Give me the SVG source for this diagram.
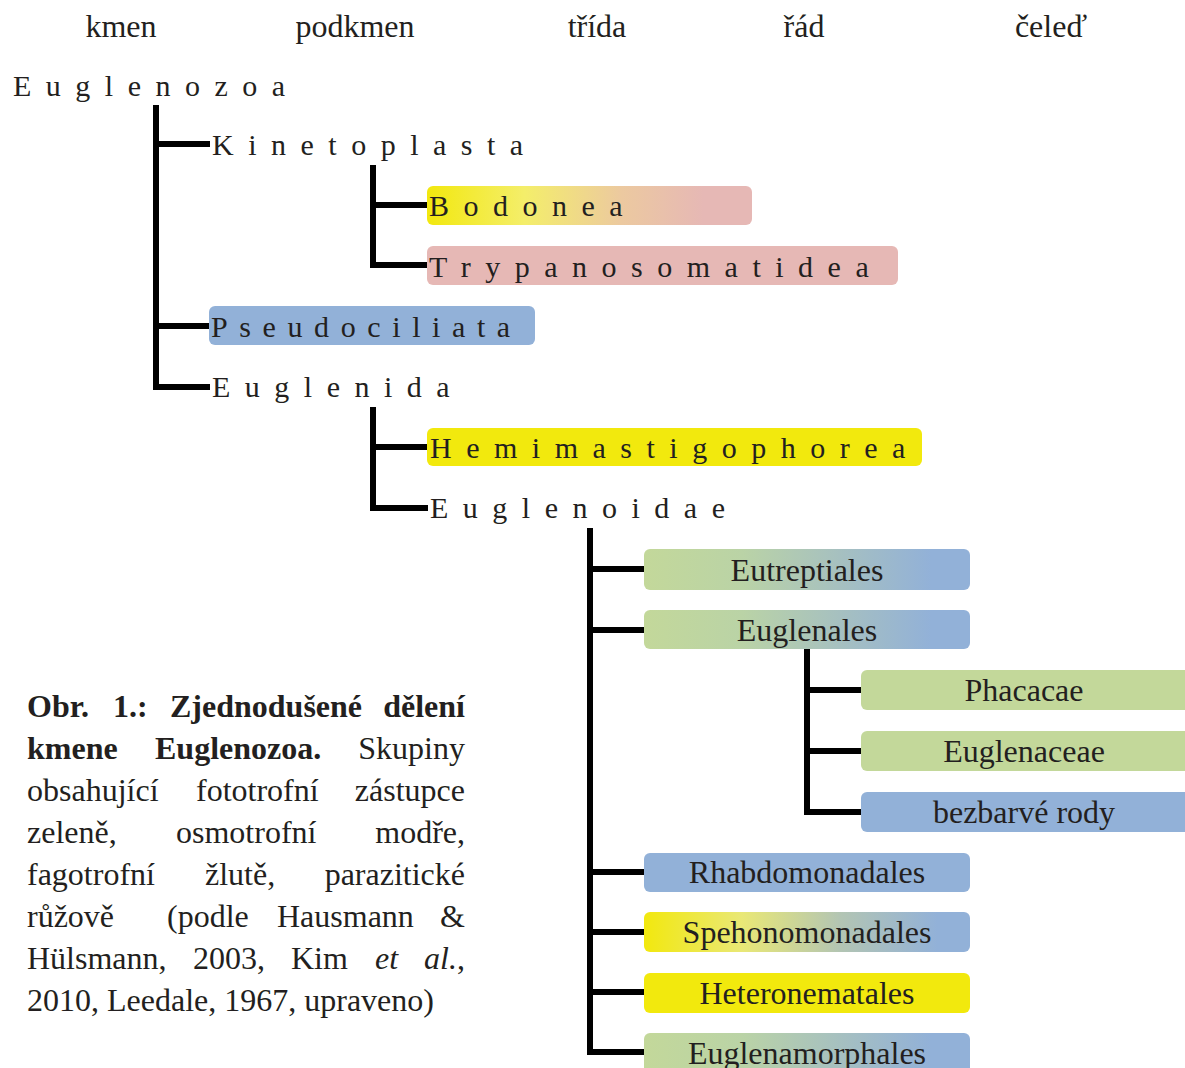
<svg xmlns="http://www.w3.org/2000/svg" width="1185" height="1068" viewBox="0 0 1185 1068">
<defs>
<linearGradient id="gBod" x1="0" y1="0" x2="1" y2="0">
<stop offset="0" stop-color="#f2e80e"/>
<stop offset="0.3" stop-color="#f4ee6a"/>
<stop offset="0.6" stop-color="#ecc9a0"/>
<stop offset="0.85" stop-color="#e6b8b5"/>
<stop offset="1" stop-color="#e6b8b5"/>
</linearGradient>
<linearGradient id="gGB" x1="0" y1="0" x2="1" y2="0">
<stop offset="0" stop-color="#c3d89a"/>
<stop offset="0.3" stop-color="#bad3a6"/>
<stop offset="0.6" stop-color="#a6c0c0"/>
<stop offset="0.88" stop-color="#92b1d8"/>
<stop offset="1" stop-color="#92b1d8"/>
</linearGradient>
<linearGradient id="gYB" x1="0" y1="0" x2="1" y2="0">
<stop offset="0" stop-color="#f2e80e"/>
<stop offset="0.3" stop-color="#e9e876"/>
<stop offset="0.6" stop-color="#b3c5b3"/>
<stop offset="0.9" stop-color="#92b1d8"/>
<stop offset="1" stop-color="#92b1d8"/>
</linearGradient>
</defs>
<style>
text{font-family:"Liberation Serif","Times New Roman",serif;fill:#231f20}
.h{font-size:32px;text-anchor:middle}
.sp{font-size:30px;letter-spacing:14.5px}
.bx{font-size:32px;text-anchor:middle}
.cap{font-size:32px}
.b{font-weight:bold}
.e{text-anchor:end}
.it{font-style:italic}
.ln{fill:none;stroke:#000;stroke-width:6;stroke-linejoin:miter}
.green{fill:#c3d89a}
.blue{fill:#92b1d8}
.yellow{fill:#f2e90d}
.pink{fill:#e6b8b5}
</style>

<g id="headers">
<text class="h" x="121" y="37">kmen</text>
<text class="h" x="355" y="37">podkmen</text>
<text class="h" x="597" y="37">třída</text>
<text class="h" x="804" y="37">řád</text>
<text class="h" x="1051" y="37">čeleď</text>
</g>

<g id="connectors">
<path class="ln" d="M156,105 V387 H210 M156,144 H210 M156,326 H210"/>
<path class="ln" d="M373,165 V265 H428 M373,205 H428"/>
<path class="ln" d="M373,407 V508 H428 M373,447 H428"/>
<path class="ln" d="M590,528 V1052 H645 M590,569 H645 M590,630 H645 M590,872 H645 M590,932 H645 M590,992 H645"/>
<path class="ln" d="M807,649 V812 H862 M807,690 H862 M807,751 H862"/>
</g>

<g id="n-euglenozoa"><text class="sp" x="13" y="96">Euglenozoa</text></g>
<g id="n-kinetoplasta"><text class="sp" x="212" y="155">Kinetoplasta</text></g>
<g id="n-bodonea"><rect x="427" y="186" width="325" height="39" rx="6" fill="url(#gBod)"/><text class="sp" x="429" y="216">Bodonea</text></g>
<g id="n-trypanosomatidea"><rect class="pink" x="427" y="246" width="471" height="39" rx="6"/><text class="sp" x="429" y="277">Trypanosomatidea</text></g>
<g id="n-pseudociliata"><rect class="blue" x="209" y="306" width="326" height="39" rx="6"/><text class="sp" x="211" y="337" style="letter-spacing:11.6px">Pseudociliata</text></g>
<g id="n-euglenida"><text class="sp" x="212" y="397">Euglenida</text></g>
<g id="n-hemimastigophorea"><rect class="yellow" x="427" y="428" width="495" height="38" rx="6"/><text class="sp" x="430" y="458">Hemimastigophorea</text></g>
<g id="n-euglenoidae"><text class="sp" x="430" y="518">Euglenoidae</text></g>

<g id="n-eutreptiales"><rect x="644" y="549" width="326" height="41" rx="6" fill="url(#gGB)"/><text class="bx" x="807" y="581">Eutreptiales</text></g>
<g id="n-euglenales"><rect x="644" y="610" width="326" height="39" rx="6" fill="url(#gGB)"/><text class="bx" x="807" y="641">Euglenales</text></g>
<g id="n-phacacae"><rect class="green" x="861" y="670" width="340" height="40" rx="6"/><text class="bx" x="1024" y="701">Phacacae</text></g>
<g id="n-euglenaceae"><rect class="green" x="861" y="731" width="340" height="40" rx="6"/><text class="bx" x="1024" y="762">Euglenaceae</text></g>
<g id="n-bezbarve"><rect class="blue" x="861" y="792" width="340" height="40" rx="6"/><text class="bx" x="1024" y="823">bezbarvé rody</text></g>
<g id="n-rhabdomonadales"><rect class="blue" x="644" y="853" width="326" height="39" rx="6"/><text class="bx" x="807" y="883">Rhabdomonadales</text></g>
<g id="n-spehonomonadales"><rect x="644" y="912" width="326" height="40" rx="6" fill="url(#gYB)"/><text class="bx" x="807" y="943">Spehonomonadales</text></g>
<g id="n-heteronematales"><rect class="yellow" x="644" y="973" width="326" height="40" rx="6"/><text class="bx" x="807" y="1004">Heteronematales</text></g>
<g id="n-euglenamorphales"><rect x="644" y="1033" width="326" height="45" rx="6" fill="url(#gGB)"/><text class="bx" x="807" y="1064">Euglenamorphales</text></g>

<g id="caption" class="cap">
<text class="cap b" x="27" y="717">Obr.</text>
<text class="cap b" x="113" y="717">1.:</text>
<text class="cap b" x="170" y="717">Zjednodušené</text>
<text class="cap b e" x="465" y="717">dělení</text>
<text class="cap b" x="27" y="759">kmene</text>
<text class="cap b" x="155" y="759">Euglenozoa.</text>
<text class="cap e" x="465" y="759">Skupiny</text>
<text class="cap" x="27" y="801">obsahující</text>
<text class="cap" x="196" y="801">fototrofní</text>
<text class="cap e" x="465" y="801">zástupce</text>
<text class="cap" x="27" y="843">zeleně,</text>
<text class="cap" x="176" y="843">osmotrofní</text>
<text class="cap e" x="465" y="843">modře,</text>
<text class="cap" x="27" y="885">fagotrofní</text>
<text class="cap" x="205" y="885">žlutě,</text>
<text class="cap e" x="465" y="885">parazitické</text>
<text class="cap" x="27" y="927">růžově</text>
<text class="cap" x="167" y="927">(podle</text>
<text class="cap" x="277" y="927">Hausmann</text>
<text class="cap e" x="465" y="927">&amp;</text>
<text class="cap" x="27" y="969">Hülsmann,</text>
<text class="cap" x="193" y="969">2003,</text>
<text class="cap" x="291" y="969">Kim</text>
<text class="cap it" x="375" y="969">et</text>
<text class="cap e" x="465" y="969"><tspan class="it">al.</tspan>,</text>
<text class="cap" x="27" y="1011">2010, Leedale, 1967, upraveno)</text>
</g>
</svg>
